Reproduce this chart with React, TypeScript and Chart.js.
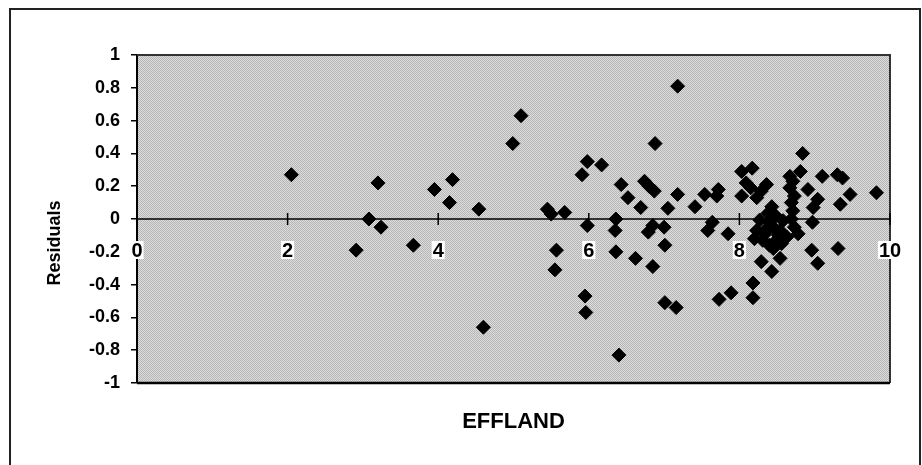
import React, { useEffect, useRef } from "react";
import { Chart, registerables } from "chart.js";

Chart.register(...registerables);

// EFFLAND (x) values
const effland: number[] = [
  2.05, 2.91, 3.08, 3.2, 3.24, 3.67, 3.95, 4.19, 4.15, 4.54,
  4.6, 4.99, 5.1, 5.45, 5.5, 5.68, 5.57, 5.55, 5.91, 5.98,
  6.17, 5.98, 5.95, 5.96, 6.4, 6.43, 6.52, 6.36, 6.35, 6.36,
  6.62, 6.69, 6.74, 6.8, 6.87, 6.88, 6.79, 6.85, 7.0, 7.01,
  6.85, 7.01, 7.16, 7.05, 7.18, 7.18, 7.41, 7.54, 7.72, 7.7,
  7.64, 7.58, 7.85, 7.73, 7.89,
  8.03, 8.17, 8.09, 8.15, 8.03, 8.29, 8.36, 8.23, 8.43, 8.38,
  8.27, 8.23, 8.2, 8.34, 8.45, 8.54, 8.58, 8.63, 8.49, 8.4,
  8.31, 8.56, 8.45, 8.54, 8.43, 8.29, 8.18, 8.18, 8.84, 8.67,
  8.81, 8.71, 8.67, 8.73, 8.69, 8.71, 8.69, 8.73, 8.78, 8.91,
  9.04, 8.98, 8.97, 8.96, 9.04, 9.1, 9.3, 9.37, 9.47, 9.34,
  9.31, 9.82, 8.48, 8.4, 8.52, 8.36,
];

// Residual (y) values
const residuals: number[] = [
  0.27, -0.19, 0.0, 0.22, -0.05, -0.16, 0.18, 0.24, 0.1, 0.06,
  -0.66, 0.46, 0.63, 0.06, 0.03, 0.04, -0.19, -0.31, 0.27, 0.35,
  0.33, -0.04, -0.47, -0.57, -0.83, 0.21, 0.13, 0.0, -0.07, -0.2,
  -0.24, 0.07, 0.23, 0.2, 0.17, 0.46, -0.08, -0.04, -0.05, -0.16,
  -0.29, -0.51, -0.54, 0.065, 0.15, 0.81, 0.075, 0.15, 0.18, 0.14,
  -0.02, -0.07, -0.09, -0.49, -0.45,
  0.29, 0.31, 0.22, 0.19, 0.14, 0.17, 0.21, 0.13, 0.075, 0.035,
  -0.006, -0.07, -0.12, -0.09, -0.05, -0.07, -0.01, -0.11, -0.13, -0.16,
  -0.13, -0.15, -0.18, -0.24, -0.32, -0.26, -0.39, -0.48, 0.4, 0.26,
  0.29, 0.23, 0.19, 0.14, 0.1, 0.05, 0.0, -0.05, -0.09, 0.18,
  0.12, 0.07, -0.02, -0.19, -0.27, 0.26, 0.27, 0.25, 0.15, 0.09,
  -0.18, 0.16, 0.02, -0.02, -0.1, -0.06,
];

const xTickValues: number[] = [0, 2, 4, 6, 8, 10];
const xTickLabels: string[] = ["0", "2", "4", "6", "8", "10"];
const xTitle = "EFFLAND";
const yTitle = "Residuals";

const FONT = "'Liberation Sans', Arial, sans-serif";

function makePattern(ctx: CanvasRenderingContext2D) {
  const c = document.createElement("canvas");
  c.width = 2;
  c.height = 2;
  const p = c.getContext("2d")!;
  p.fillStyle = "#dcdcdc";
  p.fillRect(0, 0, 2, 2);
  p.fillStyle = "#b6b6b6";
  p.fillRect(0, 0, 1, 1);
  p.fillRect(1, 1, 1, 1);
  return ctx.createPattern(c, "repeat");
}

const decor = {
  id: "decor",
  beforeDraw(chart: any) {
    const { ctx, chartArea: a, width, height } = chart;
    ctx.save();
    ctx.fillStyle = "#ffffff";
    ctx.fillRect(0, 0, width, height);
    // outer frame (bottom edge goes past the canvas)
    ctx.strokeStyle = "#222";
    ctx.lineWidth = 2;
    ctx.strokeRect(10, 9, 910, height + 20);
    // plot area
    ctx.fillStyle = makePattern(ctx) || "#c8c8c8";
    ctx.fillRect(a.left, a.top, a.right - a.left, a.bottom - a.top);
    ctx.restore();
  },
  beforeDatasetsDraw(chart: any) {
    const { ctx, chartArea: a, scales } = chart;
    const xs = scales.x;
    const ys = scales.y;
    ctx.save();
    // plot area border (top, right, bottom)
    ctx.strokeStyle = "#333";
    ctx.lineWidth = 2;
    ctx.beginPath();
    ctx.moveTo(a.left, a.top);
    ctx.lineTo(a.right, a.top);
    ctx.lineTo(a.right, a.bottom);
    ctx.stroke();
    ctx.strokeStyle = "#000";
    ctx.lineWidth = 2.5;
    ctx.beginPath();
    ctx.moveTo(a.left, a.bottom);
    ctx.lineTo(a.right, a.bottom);
    ctx.stroke();

    // horizontal axis at y = 0
    const y0 = ys.getPixelForValue(0);
    ctx.strokeStyle = "#000";
    ctx.lineWidth = 1.5;
    ctx.beginPath();
    ctx.moveTo(a.left, y0);
    ctx.lineTo(a.right, y0);
    ctx.stroke();

    // tick marks and labels
    ctx.font = `bold 20px ${FONT}`;
    ctx.textAlign = "center";
    ctx.textBaseline = "middle";
    xTickValues.forEach((v, i) => {
      const px = xs.getPixelForValue(v);
      ctx.strokeStyle = "#000";
      ctx.lineWidth = 1.5;
      ctx.beginPath();
      ctx.moveTo(px, y0 - 6);
      ctx.lineTo(px, y0 + 6);
      ctx.stroke();
      const label = xTickLabels[i];
      const w = ctx.measureText(label).width;
      const ly = y0 + 31;
      ctx.fillStyle = "#ffffff";
      ctx.fillRect(px - w / 2 - 1, ly - 9, w + 2, 18);
      ctx.fillStyle = "#000";
      ctx.fillText(label, px, ly + 1);
    });

    // y axis title
    ctx.translate(55, 243);
    ctx.rotate(-Math.PI / 2);
    ctx.font = `bold 18px ${FONT}`;
    ctx.fillStyle = "#000";
    ctx.textAlign = "center";
    ctx.textBaseline = "middle";
    ctx.fillText(yTitle, 0, 0);
    ctx.restore();
  },
};

export default function App() {
  const ref = useRef<HTMLCanvasElement | null>(null);

  useEffect(() => {
    if (!ref.current) return;
    const data = effland.map((x, i) => ({ x, y: residuals[i] }));
    const chart = new Chart(ref.current, {
      type: "scatter",
      data: {
        datasets: [
          {
            data,
            pointStyle: "rectRot",
            pointRadius: 7,
            pointBorderWidth: 1,
            backgroundColor: "#000",
            borderColor: "#000",
          },
        ],
      },
      options: {
        animation: false,
        responsive: false,
        devicePixelRatio: 1,
        layout: { padding: { left: 10, top: 55, right: 32, bottom: 0 } },
        plugins: {
          legend: { display: false },
          tooltip: { enabled: false },
        },
        scales: {
          x: {
            type: "linear",
            min: 0,
            max: 10,
            ticks: { display: false },
            grid: { display: false },
            border: { display: false },
            title: {
              display: true,
              text: xTitle,
              color: "#000",
              font: { family: FONT, size: 22, weight: "bold" },
              padding: { top: 0, bottom: 30 },
            },
            afterFit: (s: any) => {
              s.height = 82;
              s.paddingLeft = 0;
              s.paddingRight = 0;
            },
          },
          y: {
            type: "linear",
            min: -1,
            max: 1,
            ticks: {
              stepSize: 0.2,
              color: "#000",
              padding: 11,
              font: { family: FONT, size: 18, weight: "bold" },
              callback: (v: any) => String(Math.round(Number(v) * 10) / 10),
            },
            grid: {
              display: true,
              drawOnChartArea: false,
              drawTicks: true,
              tickLength: 6,
              color: "#000",
              lineWidth: 1.5,
            },
            border: { display: true, color: "#000", width: 2 },
            afterFit: (s: any) => {
              s.width = 127;
              s.paddingTop = 0;
              s.paddingBottom = 0;
            },
          },
        },
      },
      plugins: [decor],
    });
    return () => chart.destroy();
  }, []);

  return (
    <div style={{ position: "fixed", left: 0, top: 0, width: 922, height: 465 }}>
      <canvas ref={ref} width={922} height={465} />
    </div>
  );
}
